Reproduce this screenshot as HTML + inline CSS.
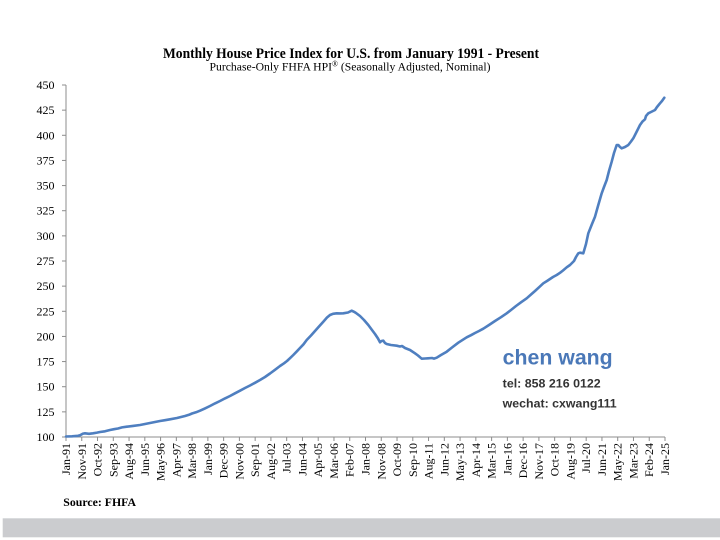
<!DOCTYPE html>
<html>
<head>
<meta charset="utf-8">
<style>
html,body{margin:0;padding:0;background:#fff;}
svg{display:block;}
.ax{font-family:"Liberation Serif","Times New Roman",serif;font-size:12px;fill:#000;}
</style>
</head>
<body>
<svg width="720" height="540" viewBox="0 0 720 540" xmlns="http://www.w3.org/2000/svg">
<rect x="0" y="0" width="720" height="540" fill="#fff"/>
<!-- Titles -->
<text x="351" y="58" text-anchor="middle" font-family="'Liberation Serif','Times New Roman',serif" font-weight="bold" font-size="14.5" textLength="376" lengthAdjust="spacingAndGlyphs">Monthly House Price Index for U.S. from January 1991 - Present</text>
<text x="350" y="70.7" text-anchor="middle" font-family="'Liberation Serif','Times New Roman',serif" font-size="12" textLength="281" lengthAdjust="spacingAndGlyphs">Purchase-Only FHFA HPI<tspan font-size="8" dy="-4">®</tspan><tspan dy="4"> (Seasonally Adjusted, Nominal)</tspan></text>

<!-- Axes -->
<g stroke="#8c8c8c" stroke-width="1" fill="none">
<line x1="66" y1="85" x2="66" y2="437"/>
<line x1="66" y1="437" x2="665" y2="437"/>
</g>
<g stroke="#8c8c8c" stroke-width="1" id="yticks">
<line x1="62" y1="437" x2="66" y2="437"/>
<line x1="62" y1="411.86" x2="66" y2="411.86"/>
<line x1="62" y1="386.71" x2="66" y2="386.71"/>
<line x1="62" y1="361.57" x2="66" y2="361.57"/>
<line x1="62" y1="336.43" x2="66" y2="336.43"/>
<line x1="62" y1="311.29" x2="66" y2="311.29"/>
<line x1="62" y1="286.14" x2="66" y2="286.14"/>
<line x1="62" y1="261" x2="66" y2="261"/>
<line x1="62" y1="235.86" x2="66" y2="235.86"/>
<line x1="62" y1="210.71" x2="66" y2="210.71"/>
<line x1="62" y1="185.57" x2="66" y2="185.57"/>
<line x1="62" y1="160.43" x2="66" y2="160.43"/>
<line x1="62" y1="135.29" x2="66" y2="135.29"/>
<line x1="62" y1="110.14" x2="66" y2="110.14"/>
<line x1="62" y1="85" x2="66" y2="85"/>
</g>
<g class="ax" text-anchor="end">
<text x="54.5" y="441">100</text>
<text x="54.5" y="415.86">125</text>
<text x="54.5" y="390.71">150</text>
<text x="54.5" y="365.57">175</text>
<text x="54.5" y="340.43">200</text>
<text x="54.5" y="315.29">225</text>
<text x="54.5" y="290.14">250</text>
<text x="54.5" y="265">275</text>
<text x="54.5" y="239.86">300</text>
<text x="54.5" y="214.71">325</text>
<text x="54.5" y="189.57">350</text>
<text x="54.5" y="164.43">375</text>
<text x="54.5" y="139.29">400</text>
<text x="54.5" y="114.14">425</text>
<text x="54.5" y="89">450</text>
</g>

<!-- X ticks and labels -->
<g stroke="#8c8c8c" stroke-width="1">
<line x1="66" y1="437" x2="66" y2="441"/>
<line x1="81.76" y1="437" x2="81.76" y2="441"/>
<line x1="97.53" y1="437" x2="97.53" y2="441"/>
<line x1="113.29" y1="437" x2="113.29" y2="441"/>
<line x1="129.05" y1="437" x2="129.05" y2="441"/>
<line x1="144.82" y1="437" x2="144.82" y2="441"/>
<line x1="160.58" y1="437" x2="160.58" y2="441"/>
<line x1="176.34" y1="437" x2="176.34" y2="441"/>
<line x1="192.11" y1="437" x2="192.11" y2="441"/>
<line x1="207.87" y1="437" x2="207.87" y2="441"/>
<line x1="223.63" y1="437" x2="223.63" y2="441"/>
<line x1="239.39" y1="437" x2="239.39" y2="441"/>
<line x1="255.16" y1="437" x2="255.16" y2="441"/>
<line x1="270.92" y1="437" x2="270.92" y2="441"/>
<line x1="286.68" y1="437" x2="286.68" y2="441"/>
<line x1="302.45" y1="437" x2="302.45" y2="441"/>
<line x1="318.21" y1="437" x2="318.21" y2="441"/>
<line x1="333.97" y1="437" x2="333.97" y2="441"/>
<line x1="349.74" y1="437" x2="349.74" y2="441"/>
<line x1="365.5" y1="437" x2="365.5" y2="441"/>
<line x1="381.26" y1="437" x2="381.26" y2="441"/>
<line x1="397.03" y1="437" x2="397.03" y2="441"/>
<line x1="412.79" y1="437" x2="412.79" y2="441"/>
<line x1="428.55" y1="437" x2="428.55" y2="441"/>
<line x1="444.32" y1="437" x2="444.32" y2="441"/>
<line x1="460.08" y1="437" x2="460.08" y2="441"/>
<line x1="475.84" y1="437" x2="475.84" y2="441"/>
<line x1="491.61" y1="437" x2="491.61" y2="441"/>
<line x1="507.37" y1="437" x2="507.37" y2="441"/>
<line x1="523.13" y1="437" x2="523.13" y2="441"/>
<line x1="538.89" y1="437" x2="538.89" y2="441"/>
<line x1="554.66" y1="437" x2="554.66" y2="441"/>
<line x1="570.42" y1="437" x2="570.42" y2="441"/>
<line x1="586.18" y1="437" x2="586.18" y2="441"/>
<line x1="601.95" y1="437" x2="601.95" y2="441"/>
<line x1="617.71" y1="437" x2="617.71" y2="441"/>
<line x1="633.47" y1="437" x2="633.47" y2="441"/>
<line x1="649.24" y1="437" x2="649.24" y2="441"/>
<line x1="665" y1="437" x2="665" y2="441"/>
</g>
<g class="ax" text-anchor="end">
<text transform="translate(70,443) rotate(-90)">Jan-91</text>
<text transform="translate(85.76,443) rotate(-90)">Nov-91</text>
<text transform="translate(101.53,443) rotate(-90)">Oct-92</text>
<text transform="translate(117.29,443) rotate(-90)">Sep-93</text>
<text transform="translate(133.05,443) rotate(-90)">Aug-94</text>
<text transform="translate(148.82,443) rotate(-90)">Jun-95</text>
<text transform="translate(164.58,443) rotate(-90)">May-96</text>
<text transform="translate(180.34,443) rotate(-90)">Apr-97</text>
<text transform="translate(196.11,443) rotate(-90)">Mar-98</text>
<text transform="translate(211.87,443) rotate(-90)">Jan-99</text>
<text transform="translate(227.63,443) rotate(-90)">Dec-99</text>
<text transform="translate(243.39,443) rotate(-90)">Nov-00</text>
<text transform="translate(259.16,443) rotate(-90)">Sep-01</text>
<text transform="translate(274.92,443) rotate(-90)">Aug-02</text>
<text transform="translate(290.68,443) rotate(-90)">Jul-03</text>
<text transform="translate(306.45,443) rotate(-90)">Jun-04</text>
<text transform="translate(322.21,443) rotate(-90)">Apr-05</text>
<text transform="translate(337.97,443) rotate(-90)">Mar-06</text>
<text transform="translate(353.74,443) rotate(-90)">Feb-07</text>
<text transform="translate(369.5,443) rotate(-90)">Jan-08</text>
<text transform="translate(385.26,443) rotate(-90)">Nov-08</text>
<text transform="translate(401.03,443) rotate(-90)">Oct-09</text>
<text transform="translate(416.79,443) rotate(-90)">Sep-10</text>
<text transform="translate(432.55,443) rotate(-90)">Aug-11</text>
<text transform="translate(448.32,443) rotate(-90)">Jun-12</text>
<text transform="translate(464.08,443) rotate(-90)">May-13</text>
<text transform="translate(479.84,443) rotate(-90)">Apr-14</text>
<text transform="translate(495.61,443) rotate(-90)">Mar-15</text>
<text transform="translate(511.37,443) rotate(-90)">Jan-16</text>
<text transform="translate(527.13,443) rotate(-90)">Dec-16</text>
<text transform="translate(542.89,443) rotate(-90)">Nov-17</text>
<text transform="translate(558.66,443) rotate(-90)">Oct-18</text>
<text transform="translate(574.42,443) rotate(-90)">Aug-19</text>
<text transform="translate(590.18,443) rotate(-90)">Jul-20</text>
<text transform="translate(605.95,443) rotate(-90)">Jun-21</text>
<text transform="translate(621.71,443) rotate(-90)">May-22</text>
<text transform="translate(637.47,443) rotate(-90)">Mar-23</text>
<text transform="translate(653.24,443) rotate(-90)">Feb-24</text>
<text transform="translate(669,443) rotate(-90)">Jan-25</text>
</g>

<!-- Series -->
<polyline fill="none" stroke="#4f7fc0" stroke-width="2.6" stroke-linejoin="round" stroke-linecap="round" points="
66,436.5 72,436.3 78,435.8 80,435.3 83,433.6 85,433.3 89,433.8 93,433.3 97,432.6 100,432 105,431.3 110,430 114,429.2 118,428.5 122,427.4 126.7,426.7 133,425.9 140,425 145,424 150,423 155,422 160,421 165,420.2 170,419.3 177,418 185,416 189,414.8 192,413.5 196,412.3 200,410.7 205,408.4 210,406 215,403.4 220,401 225,398.4 230,396 235,393.3 240,390.7 245,388 250,385.5 255,382.8 260,380 265,377 270,373.5 275,369.8 280,366 284,363.3 287,361 290,358.2 293.3,355 297,351.2 300,348 303.5,344.3 306.7,340 311,335.5 315,331 319,326.5 323.3,321.7 327,317.5 330,315 333,313.8 336.7,313.3 340,313.4 343.3,313.3 348,312.5 351.7,310.7 354,311.8 356,313 360,316 364,320 368.3,325 372,330 375,334 378,338.5 380,342.3 381.5,341 383.3,340.7 385,343 386.7,344 391,345 396.7,345.7 400,346.5 402,346 405,348 410,350 415,353.3 418,355.5 421.7,358.7 425,358.5 428,358.3 432,358 434,358.6 436.7,357.7 441,355 446.7,351.7 452,347.5 458.3,342.7 462,340.3 466.7,337.3 471,335.2 475,333 479,331 483.3,328.7 489,325 495,321 501,317.2 506.7,313.3 511,310 516,306 521,302.3 526.7,298.3 531,294.5 535,291 539,287.3 543.3,283.3 547,281 550,279 553,277 556.7,275 560,272.8 563,270.5 566.7,267.3 570,265 572,263 574,261 576,257 578.3,253.3 580,252.7 583.3,253.3 586,244 588.3,233.3 592,224 595,216.7 598,206 601.7,193.3 604,187 606.7,180 609,171 611.7,161.7 614,153 616.7,145 618.3,145 620,147 621.7,148.3 625,147 628.3,145 631,141.5 633.3,138.3 637,131 640,125 642.5,121.5 645,119.3 646,116 648.3,113.3 651,112 655,110 657,107 660,103.3 662,101 664.3,97.7"/>

<!-- Watermark -->
<text x="502.7" y="364.3" font-family="'Liberation Sans','DejaVu Sans',sans-serif" font-weight="bold" font-size="21" fill="#4a78b8" textLength="110" lengthAdjust="spacingAndGlyphs">chen wang</text>
<text x="502.7" y="387.3" font-family="'Liberation Sans','DejaVu Sans',sans-serif" font-weight="bold" font-size="12" fill="#333" textLength="98" lengthAdjust="spacingAndGlyphs">tel: 858 216 0122</text>
<text x="502.7" y="407.7" font-family="'Liberation Sans','DejaVu Sans',sans-serif" font-weight="bold" font-size="12" fill="#333" textLength="114" lengthAdjust="spacingAndGlyphs">wechat: cxwang111</text>

<!-- Source -->
<text x="63.3" y="506" font-family="'Liberation Serif','Times New Roman',serif" font-weight="bold" font-size="12" textLength="72.7" lengthAdjust="spacingAndGlyphs">Source: FHFA</text>

<!-- Bottom bar -->
<rect x="2.7" y="518.3" width="717.3" height="19" fill="#cbcccf"/>
</svg>
</body>
</html>
